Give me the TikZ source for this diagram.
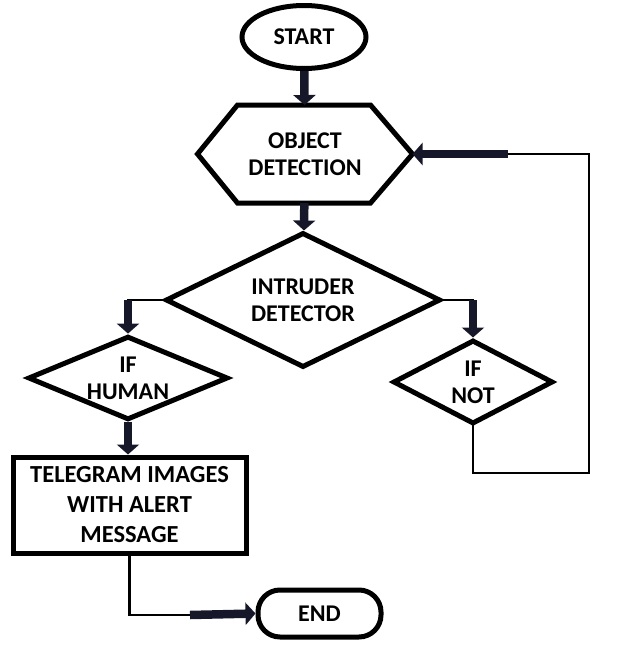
\documentclass[tikz,border=0pt]{standalone}
\usepackage{fontspec}
\setmainfont{Carlito}
\usetikzlibrary{shapes.geometric, arrows.meta}
\definecolor{arrowdark}{RGB}{22,24,42}
\begin{document}
\begin{tikzpicture}[x=1pt, y=-1pt,
	box/.style = {draw, line width=5pt, align=center, inner sep=0pt, font=\bfseries\fontsize{24}{27}\selectfont},
	terminal/.style = {box, ellipse, minimum width=124pt, minimum height=63pt},
	stopbox/.style = {box, rounded corners=22pt, minimum width=123pt, minimum height=47pt},
	hexa/.style = {box, draw=none, rectangle, minimum width=210pt, minimum height=93pt},
	decision/.style = {box, diamond, aspect=2},
	process/.style = {box, rectangle, minimum width=233pt, minimum height=96pt, font=\bfseries\fontsize{24.5}{30}\selectfont},
	flow/.style = {draw=arrowdark, line width=8.5pt, -{Triangle[length=10pt, width=22pt]}},
	thin/.style = {draw, line width=2.5pt, line cap=rect}]
	\useasboundingbox (0,0) rectangle (619,648);
	\node[terminal] (start) at (304,37) {START};
	\node[hexa] (objdet) at (305,154) {OBJECT\\DETECTION};
	\draw[line width=5pt, line join=miter] (objdet.west) -- ([xshift=40pt]objdet.north west) -- ([xshift=-42pt]objdet.north east)
		-- (objdet.east) -- ([xshift=-42pt]objdet.south east) -- ([xshift=40pt]objdet.south west) -- cycle;
	\node[decision, minimum width=275pt, minimum height=135pt] (intruder) at (303,300) {INTRUDER\\DETECTOR};
	\node[decision, minimum width=200pt, minimum height=81pt] (human) at (128,378) {IF\\HUMAN};
	\node[decision, minimum width=160pt, minimum height=84pt] (ifnot) at (473,382) {IF\\NOT};
	\node[process] (telegram) at (129.5,505) {TELEGRAM IMAGES\\WITH ALERT\\MESSAGE};
	\node[stopbox] (end) at (319.5,613.5) {END};
	\coordinate (endin) at (190,615);
	\coordinate (loopcorner) at (589,473);
	\coordinate (loopin) at (508,154);
	\draw[flow] (start) -- (objdet);
	\draw[flow] (objdet) -- (intruder);
	\draw[thin] (intruder.west) -- (intruder.west -| human.north);
	\draw[flow] (intruder.west -| human.north) -- (human.north);
	\draw[thin] (intruder.east) -- (intruder.east -| ifnot.north);
	\draw[flow] (intruder.east -| ifnot.north) -- (ifnot.north);
	\draw[flow] (human.south) -- (human.south |- telegram.north);
	\draw[thin] (telegram.south) |- (endin);
	\draw[flow] (endin) -- (end.west);
	\draw[thin] (ifnot.south) |- (loopcorner) |- (loopin);
	\draw[flow] (loopin) -- (objdet.east);
\end{tikzpicture}
\end{document}
